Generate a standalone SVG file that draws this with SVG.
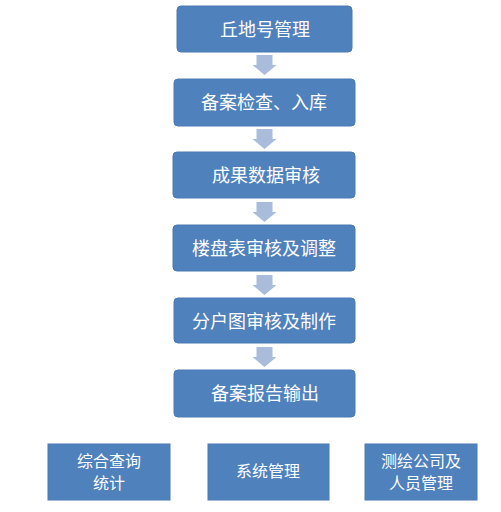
<svg xmlns="http://www.w3.org/2000/svg" width="501" height="512" viewBox="0 0 501 512">
<style>
.box{fill:#4f81bd;stroke:#4a7ab3;stroke-width:1}
.t{fill:#ffffff;font-family:"Noto Sans CJK SC","Noto Sans",sans-serif;font-size:18px;text-anchor:middle;dominant-baseline:central}
.s{fill:#ffffff;font-family:"Noto Sans CJK SC","Noto Sans",sans-serif;font-size:16px;text-anchor:middle;dominant-baseline:central}
.arr{fill:#a9bcdb}
</style>
<defs>
<path id="dn" d="M-8,0 H8 V10 H12 L0,20 L-12,10 H-8 Z"/>
</defs>
<rect width="501" height="512" fill="#ffffff"/>
<g id="connectors">
<use href="#dn" class="arr" x="264.5" y="55"/>
<use href="#dn" class="arr" x="264.5" y="129"/>
<use href="#dn" class="arr" x="264.5" y="202"/>
<use href="#dn" class="arr" x="264.5" y="275"/>
<use href="#dn" class="arr" x="264.5" y="347"/>
</g>
<g id="n1"><rect class="box" x="177" y="6" width="175" height="46" rx="4"/><text class="t" x="265" y="27.5">丘地号管理</text></g>
<g id="n2"><rect class="box" x="174" y="79" width="181" height="47" rx="4"/><text class="t" x="264" y="100.5">备案检查、入库</text></g>
<g id="n3"><rect class="box" x="173" y="152" width="182" height="46" rx="4"/><text class="t" x="266" y="173.5">成果数据审核</text></g>
<g id="n4"><rect class="box" x="173" y="225" width="182" height="46" rx="4"/><text class="t" x="264" y="246.5">楼盘表审核及调整</text></g>
<g id="n5"><rect class="box" x="174" y="298" width="181" height="45" rx="4"/><text class="t" x="264" y="319.5">分户图审核及制作</text></g>
<g id="n6"><rect class="box" x="174" y="370" width="181" height="47" rx="4"/><text class="t" x="265" y="391.5">备案报告输出</text></g>
<g id="n7"><rect class="box" x="48" y="444" width="122" height="56"/><text class="s" x="109" y="459.5">综合查询</text><text class="s" x="109" y="481.5">统计</text></g>
<g id="n8"><rect class="box" x="208" y="444" width="121" height="56"/><text class="s" x="268" y="469.5">系统管理</text></g>
<g id="n9"><rect class="box" x="365" y="444" width="112" height="56"/><text class="s" x="421" y="459.5">测绘公司及</text><text class="s" x="421" y="481.5">人员管理</text></g>
</svg>
